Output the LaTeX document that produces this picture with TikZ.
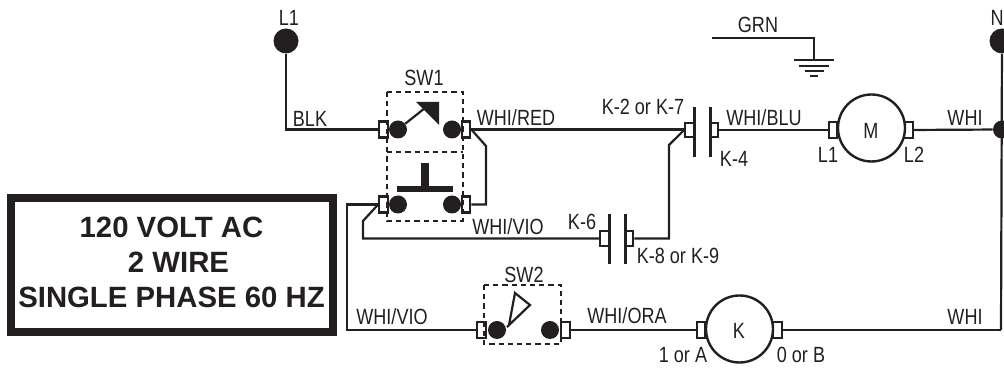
\documentclass[tikz,border=0pt]{standalone}
\usepackage{fontspec}
\setmainfont{Liberation Sans}
\newfontfamily\narrowf[FakeStretch=0.82]{Liberation Sans}
\definecolor{ink}{HTML}{231F20}
\tikzset{
 wire/.style={line width=2.2pt*0.75,draw=ink,line join=miter},
 term/.style={draw=ink,fill=white,line width=2.2pt*0.75,minimum width=8.5*0.75pt,minimum height=16*0.75pt,inner sep=0pt,rectangle},
 cterm/.style={draw=ink,fill=white,line width=2.2pt*0.75,minimum width=8.5*0.75pt,minimum height=14.5*0.75pt,inner sep=0pt,rectangle},
 sdot/.style={circle,fill=ink,minimum size=18*0.75pt,inner sep=0pt},
 bdot/.style={circle,fill=ink,minimum size=25*0.75pt,inner sep=0pt},
 coil/.style={circle,draw=ink,line width=2.4pt*0.75,minimum size=67*0.75pt,inner sep=0pt,fill=white},
 dashbox/.style={draw=ink,line width=2.2pt*0.75,dash pattern=on 5.2*0.75pt off 4*0.75pt},
 plate/.style={draw=ink,line width=3*0.75pt},
 lab/.style={font=\narrowf\fontsize{16.5pt}{18pt}\selectfont,text=ink,inner sep=0pt,text height=11.8pt,text depth=0pt},
 big/.style={font=\bfseries\fontsize{22pt}{26.25pt}\selectfont,text=ink,inner sep=0pt,align=center},
}
\begin{document}
\begin{tikzpicture}[x=0.75pt,y=-0.75pt]
\useasboundingbox (0,0) rectangle (1004,373);
\clip (0,0) rectangle (1004,373);
% supply dots
\node[bdot] (L1) at (286,41) {};
\node[bdot] (N) at (1002,41) {};
\node[sdot] (Nj) at (1002,129.5) {};
\coordinate (Ne) at (1001,330);
% SW1
\node[term] (t1) at (383.5,129.5) {};
\node[term] (t2) at (466,129.5) {};
\node[term] (t3) at (383.5,204.5) {};
\node[term] (t4) at (466,204.5) {};
\node[sdot] (d1) at (398,129.5) {};
\node[sdot] (d2) at (452,129.5) {};
\node[sdot] (d3) at (398,204.5) {};
\node[sdot] (d4) at (452,204.5) {};
\draw[dashbox] (387,92) rectangle (463,221);
\draw[dashbox] (387,152) -- (463,152);
\draw[wire] (d1) -- (425,108);
\fill[ink] (416,102) -- (439,102) -- (439,125) -- cycle;
\fill[ink] (421,163) rectangle (429,188);
\fill[ink] (397,186) rectangle (453,192);
% K-2 contact
\node[cterm] (c1) at (689.5,130) {};
\node[cterm] (c2) at (714,130) {};
\draw[plate] (694,107) -- (694,157);
\draw[plate] (710,107) -- (710,157);
% K-6 contact
\node[cterm] (c3) at (604.5,238.5) {};
\node[cterm] (c4) at (629,238.5) {};
\draw[plate] (609,214) -- (609,264);
\draw[plate] (625,214) -- (625,264);
% M
\node[term] (m1) at (833,130) {};
\node[term] (m2) at (908.5,130) {};
\node[coil] (M) at (871.5,128) {};
\node[lab] (Mt) at (871,131) {M};
% K
\node[term] (k1) at (701,330) {};
\node[term] (k2) at (777.5,330) {};
\node[coil] (K) at (739.5,329) {};
\node[lab] (Kt) at (739,331) {K};
% SW2
\node[term] (s1) at (481.5,330) {};
\node[term] (s2) at (565.5,330) {};
\node[sdot] (d5) at (497,330) {};
\node[sdot] (d6) at (550,330) {};
\draw[dashbox] (484,285) rectangle (561,344);
\draw[wire] (507,327) -- (530,305) -- (515,293) -- (509,325);
% wires
\draw[wire] (L1) -- (286,129.5) -- (t1);
\draw[wire] (t2) -- (c1.west |- t2);
\draw[wire] (t2.east) -- (486,146) -- (486,204.5) -- (t4);
\draw[wire] (t3) -- (347,204.5) -- (347,330) -- (s1);
\draw[wire] (t3.west) -- (363,221) -- (363,238.5) -- (c3);
\draw[wire] (c4) -- (669,238.5) -- (669,145) -- (c1.west);
\draw[wire] (c2) -- (m1);
\draw[wire] (m2) -- (Nj);
\draw[wire] (N) -- (Ne);
\draw[wire] (s2) -- (k1);
\draw[wire] (k2) -- (Ne);
% ground
\coordinate (g0) at (712,38);
\coordinate (g1) at (814,60);
\draw[wire] (g0) -| (g1);
\draw[wire] (794,60) -- (834,60);
\draw[wire] (799,66) -- (829,66);
\draw[wire] (805,71) -- (824,71);
\draw[wire] (810,76) -- (818,76);
% box
\node[big] (box) at (171.5,262.5) {120 VOLT AC\\\hspace*{10.5pt}2 WIRE\\SINGLE PHASE 60 HZ};
\draw[ink,line width=8*0.75pt] (10.5,198.5) rectangle (333,332.5);
% labels
\node[lab] (a1) at (289,18) {L1};
\node[lab,anchor=east] (a2) at (1004,18) {N};
\node[lab] (a3) at (758,25) {GRN};
\node[lab] (a4) at (424,78) {SW1};
\node[lab] (a5) at (310,119) {BLK};
\node[lab] (a6) at (516,118) {WHI/RED};
\node[lab] (a7) at (643,107) {K-2 or K-7};
\node[lab] (a8) at (764,118) {WHI/BLU};
\node[lab] (a9) at (734,159) {K-4};
\node[lab] (a10) at (828,155) {L1};
\node[lab] (a11) at (914,155) {L2};
\node[lab] (a12) at (965,118) {WHI};
\node[lab] (a13) at (508,227) {WHI/VIO};
\node[lab] (a14) at (582,222) {K-6};
\node[lab] (a15) at (678,256) {K-8 or K-9};
\node[lab] (a16) at (392,317) {WHI/VIO};
\node[lab] (a17) at (524,275) {SW2};
\node[lab] (a18) at (627,316) {WHI/ORA};
\node[lab] (a19) at (683,355) {1 or A};
\node[lab] (a20) at (801,355) {0 or B};
\node[lab] (a21) at (965,317) {WHI};
\end{tikzpicture}
\end{document}
